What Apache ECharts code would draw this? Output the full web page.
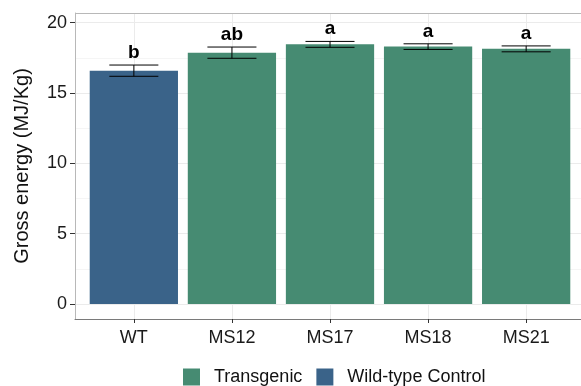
<!DOCTYPE html>
<html>
<head>
<meta charset="utf-8">
<script src="https://cdn.jsdelivr.net/npm/echarts@6/dist/echarts.min.js"></script>
<style>
  html, body { margin: 0; padding: 0; background: #fff; overflow: hidden; }
  #chart { width: 581px; height: 386px; }
</style>
</head>
<body>
<div id="chart"></div>
<script>
var myChart = echarts.init(document.getElementById('chart'));

// data
var categories = ['WT', 'MS12', 'MS17', 'MS18', 'MS21'];
var groups = ['Wild-type Control', 'Transgenic', 'Transgenic', 'Transgenic', 'Transgenic'];
var means = [16.59, 17.87, 18.46, 18.30, 18.14];
var errors = [0.40, 0.40, 0.21, 0.20, 0.21];
var letters = ['b', 'ab', 'a', 'a', 'a'];
var yTicks = [0, 5, 10, 15, 20];
var yMinor = [2.5, 7.5, 12.5, 17.5];

var FONT = 'Liberation Sans';
var X_MIN = -0.6, X_MAX = 4.6;     // ggplot discrete expansion
var Y_MIN = -1.07, Y_MAX = 20.69;
var xPos = categories.map(function (c, i) { return i; });

// only the bars of one group, at their category position
function groupData(name) {
    var out = [];
    means.forEach(function (v, i) { if (groups[i] === name) out.push([i, v]); });
    return out;
}

function hLine(v, style) {
    var a = { coord: [X_MIN, v] };
    if (style) a.lineStyle = style;
    return [a, { coord: [X_MAX, v] }];
}
function vLine(i) {
    return [{ coord: [i, Y_MIN] }, { coord: [i, Y_MAX] }];
}

// gridlines like ggplot theme_bw
var gridLines = []
    .concat(yMinor.map(function (v) { return hLine(v, { color: '#F3F3F3', width: 0.8 }); }))
    .concat(yTicks.map(function (v) { return hLine(v); }))
    .concat(xPos.map(vLine))
    .concat([hLine(Y_MAX, { color: '#B8B8B8', width: 1 })]);   // top border of panel

var option = {
    animation: false,
    grid: {
        left: 75, top: 13, width: 510, height: 306,
        outerBoundsMode: 'none',
        containLabel: false,
        show: false
    },
    legend: {
        data: ['Transgenic', 'Wild-type Control'],
        left: 183, top: 368, padding: 0,
        icon: 'rect', itemWidth: 17, itemHeight: 17, itemGap: 14,
        textStyle: { fontFamily: FONT, fontSize: 18, color: '#111', padding: [0, 0, 0, 9] }
    },
    xAxis: {
        type: 'value',
        min: X_MIN, max: X_MAX,
        axisLine: { show: true, onZero: false, lineStyle: { color: '#7A7A7A', width: 1 } },
        axisTick: { show: true, length: 4, customValues: xPos, lineStyle: { color: '#333' } },
        axisLabel: {
            fontFamily: FONT, fontSize: 18, color: '#1a1a1a', margin: 10,
            customValues: xPos,
            formatter: function (v) { return categories[Math.round(v)]; }
        },
        splitLine: { show: false }
    },
    yAxis: {
        type: 'value',
        min: Y_MIN, max: Y_MAX,
        name: 'Gross energy (MJ/Kg)',
        nameLocation: 'middle',
        nameGap: 43,
        nameTextStyle: { fontFamily: FONT, fontSize: 20, color: '#111' },
        axisLine: { show: true, onZero: false, lineStyle: { color: '#B8B8B8', width: 1 } },
        axisTick: { show: true, length: 5, customValues: yTicks, lineStyle: { color: '#333' } },
        axisLabel: { fontFamily: FONT, fontSize: 18, color: '#1a1a1a', margin: 8, customValues: yTicks },
        splitLine: { show: false }
    },
    series: [
        {
            name: 'Transgenic',
            type: 'bar',
            z: 2,
            barWidth: '90%',
            barGap: '-100%',
            itemStyle: { color: '#468B72' },
            data: groupData('Transgenic'),
            markLine: {
                silent: true,
                z: 0,
                symbol: 'none',
                label: { show: false },
                lineStyle: { color: '#EBEBEB', width: 1, type: 'solid' },
                data: gridLines
            }
        },
        {
            name: 'Wild-type Control',
            type: 'bar',
            z: 2,
            barWidth: '90%',
            barGap: '-100%',
            itemStyle: { color: '#3A6389' },
            data: groupData('Wild-type Control')
        },
        {
            name: 'errors',
            type: 'custom',
            z: 3,
            data: means.map(function (v, i) { return [i, v, errors[i]]; }),
            renderItem: function (params, api) {
                var x = api.value(0);
                var m = api.value(1);
                var e = api.value(2);
                var hi = api.coord([x, m + e]);
                var lo = api.coord([x, m - e]);
                var half = api.size([1, 0])[0] * 0.25;
                var st = { stroke: '#000', lineWidth: 1 };
                return {
                    type: 'group',
                    children: [
                        { type: 'line', shape: { x1: hi[0], y1: hi[1], x2: lo[0], y2: lo[1] }, style: st },
                        { type: 'line', shape: { x1: hi[0] - half, y1: hi[1], x2: hi[0] + half, y2: hi[1] }, style: st },
                        { type: 'line', shape: { x1: lo[0] - half, y1: lo[1], x2: lo[0] + half, y2: lo[1] }, style: st },
                        {
                            type: 'text',
                            style: {
                                x: hi[0], y: hi[1] - 3,
                                text: letters[params.dataIndex],
                                align: 'center', verticalAlign: 'bottom',
                                fontFamily: FONT, fontWeight: 'bold', fontSize: 19,
                                fill: '#000'
                            }
                        }
                    ]
                };
            }
        }
    ]
};

myChart.setOption(option);
</script>
</body>
</html>
